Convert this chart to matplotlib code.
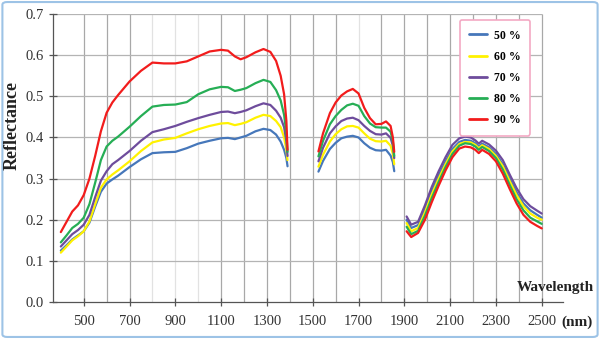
import matplotlib
matplotlib.use("Agg")
import matplotlib.pyplot as plt
from matplotlib.patches import FancyBboxPatch

plt.rcParams['font.family'] = ['Liberation Serif', 'DejaVu Serif']

# spectral reflectance for 5 moisture levels
labels = ['50 %', '60 %', '70 %', '80 %', '90 %']
colors = ['#4677BA', '#FFF200', '#6E4C9C', '#26AE55', '#F21C1C']

# segment 1 (VNIR + SWIR1)
wl1 = [400, 425, 450, 475, 500, 525, 550, 575, 600, 625, 650, 700, 750, 800, 850, 900,
       950, 1000, 1050, 1100, 1130, 1160, 1185, 1210, 1250, 1285, 1315, 1340, 1360, 1375,
       1385, 1390]
blue1 = [0.125, 0.138, 0.152, 0.162, 0.172, 0.193, 0.232, 0.268, 0.288, 0.298, 0.307, 0.328,
         0.347, 0.362, 0.364, 0.365, 0.374, 0.385, 0.392, 0.398, 0.399, 0.396, 0.400, 0.404,
         0.415, 0.421, 0.418, 0.407, 0.390, 0.370, 0.350, 0.330]
yellow1 = [0.120, 0.135, 0.150, 0.160, 0.172, 0.196, 0.238, 0.278, 0.298, 0.310, 0.320, 0.342,
           0.367, 0.388, 0.395, 0.399, 0.410, 0.420, 0.428, 0.434, 0.435, 0.430, 0.433, 0.437,
           0.448, 0.455, 0.452, 0.440, 0.425, 0.400, 0.370, 0.345]
purple1 = [0.135, 0.150, 0.165, 0.175, 0.188, 0.212, 0.255, 0.295, 0.318, 0.335, 0.345, 0.367,
           0.392, 0.413, 0.420, 0.428, 0.438, 0.447, 0.455, 0.462, 0.463, 0.459, 0.462, 0.466,
           0.476, 0.483, 0.479, 0.465, 0.448, 0.425, 0.390, 0.355]
green1 = [0.145, 0.162, 0.180, 0.190, 0.205, 0.238, 0.290, 0.345, 0.378, 0.392, 0.402, 0.426,
          0.452, 0.475, 0.479, 0.480, 0.486, 0.505, 0.517, 0.523, 0.522, 0.513, 0.516, 0.520,
          0.532, 0.540, 0.535, 0.515, 0.490, 0.455, 0.410, 0.365]
red1 = [0.170, 0.195, 0.220, 0.235, 0.260, 0.300, 0.355, 0.415, 0.460, 0.485, 0.503, 0.536,
        0.562, 0.582, 0.580, 0.580, 0.585, 0.597, 0.609, 0.613, 0.611, 0.597, 0.590, 0.595,
        0.607, 0.615, 0.608, 0.586, 0.550, 0.505, 0.440, 0.370]

# segment 2 (SWIR 1500-1850)
wl2 = [1525, 1545, 1575, 1600, 1625, 1650, 1675, 1700, 1725, 1750, 1775, 1800, 1820, 1840,
       1850, 1856]
blue2 = [0.317, 0.343, 0.372, 0.387, 0.398, 0.402, 0.404, 0.400, 0.386, 0.375, 0.369, 0.368,
         0.370, 0.356, 0.340, 0.318]
yellow2 = [0.329, 0.358, 0.390, 0.408, 0.420, 0.427, 0.428, 0.424, 0.410, 0.397, 0.391, 0.390,
           0.392, 0.380, 0.360, 0.335]
purple2 = [0.342, 0.375, 0.410, 0.427, 0.440, 0.446, 0.448, 0.442, 0.428, 0.416, 0.408, 0.407,
           0.410, 0.399, 0.380, 0.350]
green2 = [0.354, 0.392, 0.432, 0.452, 0.467, 0.478, 0.482, 0.477, 0.452, 0.434, 0.425, 0.424,
          0.424, 0.414, 0.390, 0.355]
red2 = [0.366, 0.410, 0.459, 0.485, 0.502, 0.512, 0.518, 0.507, 0.472, 0.447, 0.432, 0.433,
        0.439, 0.428, 0.400, 0.365]

# segment 3 (SWIR 1900-2500)
wl3 = [1910, 1930, 1960, 1990, 2020, 2050, 2080, 2110, 2140, 2165, 2190, 2210, 2225, 2240,
       2270, 2300, 2330, 2360, 2390, 2420, 2450, 2480, 2500]
blue3 = [0.200, 0.180, 0.187, 0.226, 0.270, 0.308, 0.342, 0.372, 0.389, 0.394, 0.392, 0.386,
         0.378, 0.385, 0.376, 0.360, 0.335, 0.300, 0.267, 0.240, 0.223, 0.212, 0.205]
yellow3 = [0.192, 0.172, 0.180, 0.218, 0.262, 0.300, 0.335, 0.366, 0.384, 0.389, 0.388, 0.382,
           0.374, 0.381, 0.372, 0.355, 0.330, 0.294, 0.260, 0.233, 0.215, 0.205, 0.200]
purple3 = [0.208, 0.188, 0.195, 0.235, 0.280, 0.318, 0.352, 0.382, 0.398, 0.402, 0.400, 0.393,
           0.385, 0.392, 0.383, 0.368, 0.345, 0.310, 0.277, 0.250, 0.233, 0.222, 0.215]
green3 = [0.183, 0.165, 0.173, 0.210, 0.253, 0.292, 0.328, 0.360, 0.380, 0.386, 0.384, 0.378,
          0.370, 0.377, 0.367, 0.350, 0.322, 0.285, 0.250, 0.223, 0.205, 0.196, 0.190]
red3 = [0.172, 0.158, 0.168, 0.200, 0.243, 0.283, 0.320, 0.352, 0.373, 0.378, 0.376, 0.370,
        0.362, 0.370, 0.360, 0.342, 0.312, 0.275, 0.240, 0.212, 0.195, 0.185, 0.179]

xticks = [500, 700, 900, 1100, 1300, 1500, 1700, 1900, 2100, 2300, 2500]
yticks = [0.0, 0.1, 0.2, 0.3, 0.4, 0.5, 0.6, 0.7]
grid_dark = [500, 600, 700, 1100, 1200, 1300, 1400, 1500, 1600, 1800, 1900, 2000, 2100,
             2200, 2300, 2400, 2500]
grid_light = [800, 900, 1000, 1700]

series = [(blue1, blue2, blue3), (yellow1, yellow2, yellow3), (purple1, purple2, purple3),
          (green1, green2, green3), (red1, red2, red3)]

fig = plt.figure(figsize=(6, 3.39), dpi=100)
ax = fig.add_axes([0.088, 0.109, 0.85, 0.8496])

# grid drawn by hand so it stops at 2500 like the original
ax.vlines(grid_dark, 0, 0.7, color='#A8A8A8', lw=0.9, zorder=0)
ax.vlines(grid_light, 0, 0.7, color='#E2E2E2', lw=0.9, zorder=0)
ax.hlines(yticks[1:], 365, 2500, color='#B4B4B4', lw=0.9, zorder=0)

for (s1, s2, s3), c, lab in zip(series, colors, labels):
    ax.plot(wl1, s1, color=c, lw=1.6, label=lab, solid_capstyle='round')
    ax.plot(wl2, s2, color=c, lw=1.6, solid_capstyle='round')
    ax.plot(wl3, s3, color=c, lw=1.6, solid_capstyle='round')

ax.set_xlim(365, 2592)
ax.set_ylim(0, 0.7)
ax.set_xticks(xticks)
ax.set_yticks(yticks)
ax.set_yticklabels(['%.1f' % v for v in yticks])
ax.tick_params(direction='inout', length=6, width=0.9, color='#555555',
               labelsize=10.5, labelcolor='#333333')
ax.tick_params(axis='x', pad=6)
for side in ['top', 'right']:
    ax.spines[side].set_visible(False)
for side in ['left', 'bottom']:
    ax.spines[side].set_color('#555555')
    ax.spines[side].set_linewidth(0.9)

fig.text(0.021, 1 - 126 / 339, 'Reflectance', rotation=90, ha='center', va='center',
         fontsize=13, fontweight='bold', color='#222222')
fig.text(555 / 600, 1 - 287 / 339, 'Wavelength', ha='center', va='center',
         fontsize=11, fontweight='bold', color='#222222')
fig.text(577 / 600, 1 - 322 / 339, '(nm)', ha='center', va='center',
         fontsize=11, fontweight='bold', color='#222222')

leg = ax.legend(loc='upper left', bbox_to_anchor=(0.798, 0.979), fancybox=True,
                prop={'weight': 'bold', 'size': 8.5}, handlelength=1.5, handletextpad=0.6,
                labelspacing=0.78, borderpad=0.8, borderaxespad=0, framealpha=1,
                edgecolor='#F3A9C4')
leg.get_frame().set_linewidth(1.2)
for h in leg.get_lines():
    h.set_linewidth(2)

# light blue outer frame
fig.patches.append(FancyBboxPatch((0.004, 0.006), 0.992, 0.988,
                                  boxstyle='round,pad=0,rounding_size=0.008',
                                  transform=fig.transFigure, fill=False,
                                  edgecolor='#9DC3E6', lw=1.5))

fig.savefig('out.png', dpi=100)
